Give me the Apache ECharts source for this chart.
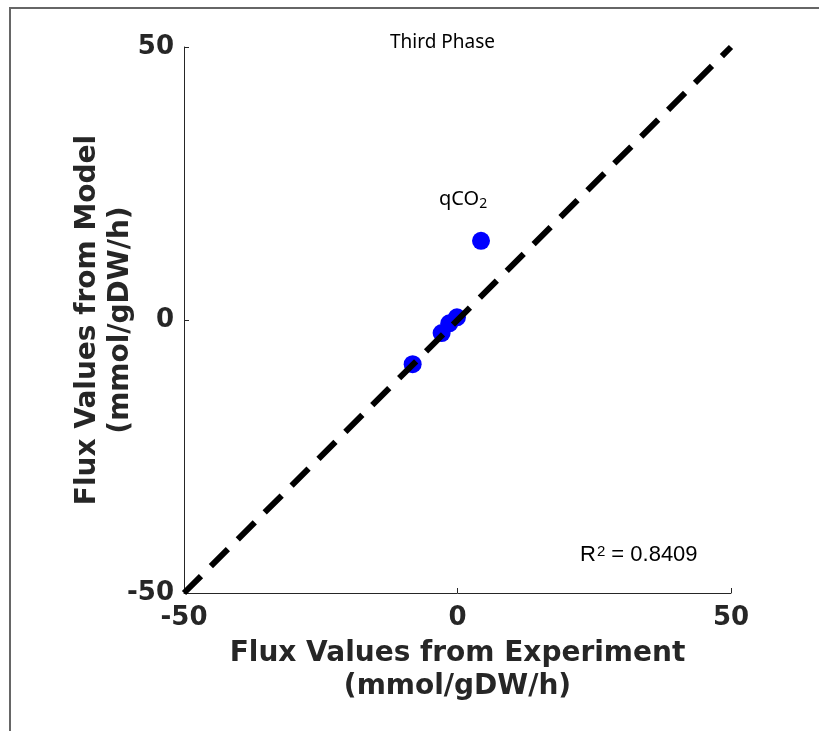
<!DOCTYPE html>
<html>
<head>
    <meta charset="utf-8">
    <title>Third Phase</title>
    <script src="https://cdn.jsdelivr.net/npm/echarts@6/dist/echarts.min.js"></script>
    <style>
        html, body { margin: 0; padding: 0; background: #fff; }
        #main { width: 819px; height: 731px; }
    </style>
</head>
<body>
<div id="main"></div>
<script>
    // experiment vs model fluxes (mmol/gDW/h)
    var expFlux = [-8.2, -2.9, -1.5, -0.1, 4.3];
    var modelFlux = [-8.1, -2.4, -0.6, 0.5, 14.5];
    var diagX = [-50, 50];
    var diagY = [-50, 50];
    var tickVals = [-50, 0, 50];

    var pts = expFlux.map(function (v, i) { return [v, modelFlux[i]]; });
    var diag = diagX.map(function (v, i) { return [v, diagY[i]]; });

    var axisFont = {
        fontFamily: 'DejaVu Sans',
        fontWeight: 'bold',
        fontSize: 26,
        color: '#262626'
    };
    var nameFont = {
        fontFamily: 'DejaVu Sans',
        fontWeight: 'bold',
        fontSize: 28,
        color: '#262626',
        lineHeight: 33
    };
    var axisLineStyle = { onZero: false, lineStyle: { color: '#262626', width: 1 } };

    var chart = echarts.init(document.getElementById('main'));
    chart.setOption({
        animation: false,
        backgroundColor: '#fff',
        grid: { left: 184, right: 88, top: 47, bottom: 138 },
        xAxis: {
            type: 'value',
            min: tickVals[0], max: tickVals[2], interval: 50,
            name: 'Flux Values from Experiment\n(mmol/gDW/h)',
            nameLocation: 'middle',
            nameGap: 44,
            nameTextStyle: Object.assign({ verticalAlign: 'top' }, nameFont),
            axisLine: axisLineStyle,
            axisTick: { inside: true, length: 5, lineStyle: { color: '#262626' } },
            axisLabel: Object.assign({ margin: 12 }, axisFont),
            splitLine: { show: false }
        },
        yAxis: {
            type: 'value',
            min: tickVals[0], max: tickVals[2], interval: 50,
            name: 'Flux Values from Model\n(mmol/gDW/h)',
            nameLocation: 'middle',
            nameGap: 47,
            nameMoveOverlap: false,
            nameTextStyle: nameFont,
            axisLine: axisLineStyle,
            axisTick: { inside: true, length: 5, lineStyle: { color: '#262626' } },
            axisLabel: Object.assign({ margin: 10 }, axisFont),
            splitLine: { show: false }
        },
        graphic: [
            {
                type: 'polyline',
                shape: { points: [[10, 731], [10, 8], [819, 8]] },
                style: { stroke: '#666', lineWidth: 2, fill: null },
                silent: true
            },
            {
                type: 'text', left: 390, top: 33,
                style: { text: 'Third Phase', font: '19px "Noto Sans"', fill: '#000' }
            },
            {
                type: 'text', left: 439, top: 189,
                style: {
                    text: '{a|qCO}{b|2}',
                    rich: {
                        a: { fontFamily: 'Noto Sans', fontSize: 20, color: '#000' },
                        b: { fontFamily: 'Noto Sans', fontSize: 14, color: '#000', padding: [11, 0, 0, 0] }
                    }
                }
            },
            {
                type: 'text', left: 580, top: 544,
                style: {
                    text: '{a|R}{b|2}{a| = 0.8409}',
                    rich: {
                        a: { fontFamily: 'Liberation Sans', fontSize: 22, color: '#000' },
                        b: { fontFamily: 'Liberation Sans', fontSize: 15, color: '#000', padding: [0, 0, 6, 1] }
                    }
                }
            }
        ],
        series: [
            {
                type: 'line',
                data: diag,
                symbol: 'none',
                lineStyle: { color: '#000', width: 6, type: [24, 14] },
                z: 3
            },
            {
                type: 'scatter',
                data: pts,
                symbolSize: 18,
                itemStyle: { color: '#0000ff', opacity: 1 },
                z: 2
            }
        ]
    });
</script>
</body>
</html>
